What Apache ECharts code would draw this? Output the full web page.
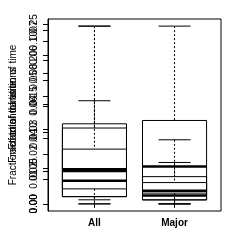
<!DOCTYPE html>
<html>
<head>
<meta charset="utf-8">
<script src="https://cdn.jsdelivr.net/npm/echarts@6/dist/echarts.min.js"></script>
<style>html,body{margin:0;padding:0;background:#fff}#c{width:240px;height:240px}</style>
</head>
<body>
<div id="c"></div>
<script>
// ---- data ----
const categories = ['All', 'Major'];
const xPositions = [1, 2];
const yTitles = ['Fraction of time', 'Fraction of transitions', 'Fraction of total duration of time'];
// three overlaid boxplots, each on its own y scale
const yMaxA = 0.247, yMaxB = 0.109, yMaxC = 0.0717;
const yTicksA = [0, 0.05, 0.10, 0.15, 0.20, 0.25];
const yTicksB = [0, 0.02, 0.04, 0.06, 0.08, 0.10];
const yTicksC = [0, 0.01, 0.02, 0.03, 0.04, 0.05, 0.06, 0.07];
// [low whisker, Q1, median, Q3, high whisker] per category
const statsA = [[0, 0.0102, 0.0320, 0.0761, 0.1433], [0, 0.0056, 0.0519, 0.1159, 0.247]];
const statsB = [[0.0025, 0.0092, 0.0202, 0.0491, 0.109], [0, 0.0066, 0.0080, 0.0167, 0.0393]];
const statsC = [[0, 0.0029, 0.0140, 0.0306, 0.0717], [0, 0.0016, 0.0034, 0.0086, 0.0167]];

const FONT = 'Liberation Sans';

function renderBox(params, api) {
  const x = api.value(0);
  const lo = api.value(1), q1 = api.value(2), md = api.value(3), q3 = api.value(4), hi = api.value(5);
  const cx = api.coord([x, 0])[0];
  const hw = api.size([0.4, 0])[0];
  const sw = hw / 2;
  const y = v => api.coord([x, v])[1];
  const st = { stroke: '#000', lineWidth: 1, fill: null };
  const dash = { stroke: '#000', lineWidth: 1, fill: null, lineDash: [2, 2] };
  return {
    type: 'group',
    children: [
      { type: 'line', shape: { x1: cx, y1: y(hi), x2: cx, y2: y(q3) }, style: dash },
      { type: 'line', shape: { x1: cx, y1: y(q1), x2: cx, y2: y(lo) }, style: dash },
      { type: 'line', shape: { x1: cx - sw, y1: y(hi), x2: cx + sw, y2: y(hi) }, style: st },
      { type: 'line', shape: { x1: cx - sw, y1: y(lo), x2: cx + sw, y2: y(lo) }, style: st },
      { type: 'rect', shape: { x: cx - hw, y: y(q3), width: 2 * hw, height: y(q1) - y(q3) }, style: st },
      { type: 'line', shape: { x1: cx - hw, y1: y(md), x2: cx + hw, y2: y(md) }, style: { stroke: '#000', lineWidth: 2.5 } }
    ]
  };
}

function mkY(max, ticks, title, showLine) {
  return {
    type: 'value', position: 'left', offset: 0,
    min: -0.04 * max, max: 1.04 * max,
    splitLine: { show: false },
    axisLine: { show: showLine, lineStyle: { color: '#000', width: 1 } },
    axisTick: { show: true, inside: false, length: 5, lineStyle: { color: '#000' }, customValues: ticks },
    axisLabel: { show: true, rotate: 90, margin: 9, fontSize: 10, fontFamily: FONT, color: '#000',
      customValues: ticks, formatter: v => v.toFixed(2) },
    name: title, nameLocation: 'middle', nameGap: 30, nameRotate: 90,
    nameTextStyle: { fontSize: 10, fontFamily: FONT, color: '#000' }
  };
}

function mkData(stats) {
  return stats.map((s, i) => [xPositions[i]].concat(s));
}

const chart = echarts.init(document.getElementById('c'), null, { renderer: 'canvas' });
chart.setOption({
  animation: false,
  backgroundColor: '#fff',
  grid: { left: 48, right: 19, top: 19, bottom: 29, show: true, borderColor: '#000', borderWidth: 1, backgroundColor: 'transparent' },
  xAxis: {
    type: 'value', min: 0.42, max: 2.58,
    splitLine: { show: false },
    axisLine: { show: false },
    axisTick: { show: true, length: 4, lineStyle: { color: '#000' }, customValues: xPositions },
    axisLabel: { show: true, margin: 7, fontSize: 10, fontWeight: 'bold', fontFamily: FONT, color: '#000',
      customValues: xPositions, formatter: v => categories[xPositions.indexOf(v)] }
  },
  yAxis: [mkY(yMaxA, yTicksA, yTitles[0], true), mkY(yMaxB, yTicksB, yTitles[1], false), mkY(yMaxC, yTicksC, yTitles[2], false)],
  series: [
    { type: 'custom', yAxisIndex: 0, renderItem: renderBox, data: mkData(statsA), encode: { x: 0, y: [1, 2, 3, 4, 5] }, clip: false },
    { type: 'custom', yAxisIndex: 1, renderItem: renderBox, data: mkData(statsB), encode: { x: 0, y: [1, 2, 3, 4, 5] }, clip: false },
    { type: 'custom', yAxisIndex: 2, renderItem: renderBox, data: mkData(statsC), encode: { x: 0, y: [1, 2, 3, 4, 5] }, clip: false }
  ]
});
</script>
</body>
</html>
